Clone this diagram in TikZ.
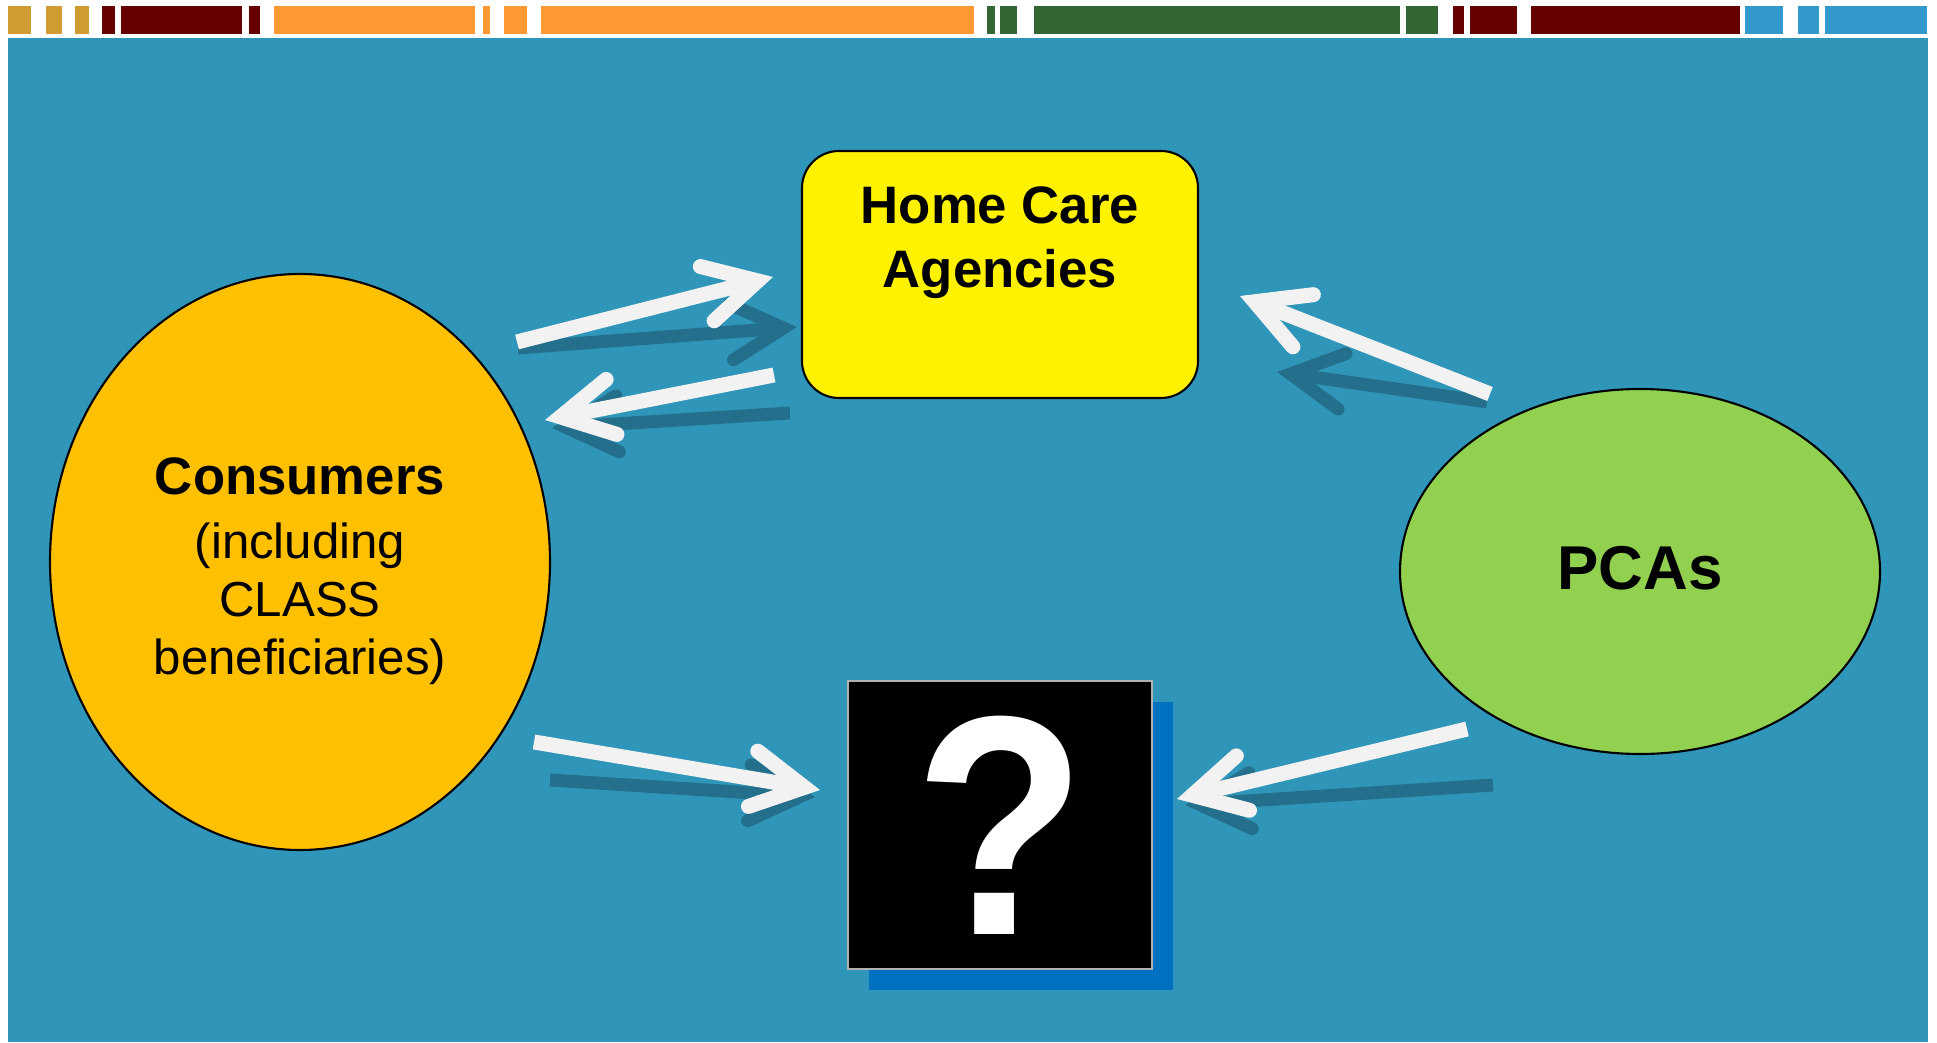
\documentclass[tikz,border=0pt]{standalone}
\usepackage{fontspec}
\setmainfont{Liberation Sans}
\usetikzlibrary{arrows.meta,shapes.geometric,shadows}

\definecolor{slide}{RGB}{48,150,185}
\definecolor{bargold}{RGB}{207,156,51}
\definecolor{barred}{RGB}{102,0,0}
\definecolor{barorange}{RGB}{255,153,51}
\definecolor{bargreen}{RGB}{51,102,51}
\definecolor{barblue}{RGB}{51,153,204}
\definecolor{consfill}{RGB}{255,192,0}
\definecolor{pcafill}{RGB}{146,208,80}
\definecolor{qshadow}{RGB}{0,112,192}
\definecolor{flowwhite}{RGB}{242,242,242}
\definecolor{flowdark}{RGB}{36,112,140}

\newcommand{\constext}{{\fontsize{15}{16.5}\selectfont\bfseries Consumers}\\[1.8pt](including\\CLASS\\beneficiaries)}

\begin{document}
\begin{tikzpicture}[
  ovalnode/.style={ellipse, draw=black, line width=0.6pt, inner sep=0pt},
  agencybox/.style={draw=black, line width=0.6pt, fill=yellow, rounded corners=0.37cm,
    minimum width=3.96cm, minimum height=2.47cm},
  flow/.style={draw=flowwhite, line width=0.15cm,
    -{Straight Barb[length=5.2mm, width=5.6mm, line width=0.15cm, line cap=round, line join=miter]}},
  flowshadow/.style={draw=flowdark, line width=0.13cm,
    -{Straight Barb[length=5.2mm, width=5.6mm, line width=0.13cm, line cap=round, line join=miter]}}
]
\useasboundingbox (0,0) rectangle (19.37,10.42);
\fill[white] (0,0) rectangle (19.37,10.42);
\fill[slide] (0.08,0) rectangle (19.28,10.04);

% colour strip on top
\foreach \a/\b/\c in {0.08/0.31/bargold, 0.46/0.62/bargold, 0.75/0.89/bargold,
    1.02/1.15/barred, 1.21/2.42/barred, 2.49/2.60/barred,
    2.74/4.75/barorange, 4.83/4.90/barorange, 5.04/5.27/barorange, 5.41/9.74/barorange,
    9.87/9.95/bargreen, 10.00/10.17/bargreen, 10.34/14.00/bargreen, 14.06/14.38/bargreen,
    14.53/14.64/barred, 14.70/15.17/barred, 15.31/17.40/barred,
    17.45/17.83/barblue, 17.98/18.19/barblue, 18.25/19.27/barblue}
  \fill[\c] (\a,10.08) rectangle (\b,10.36);

\node[ovalnode, fill=consfill, minimum width=5cm, minimum height=5.76cm,
  label={[yshift=-0.09cm, inner sep=0pt, align=center, font=\fontsize{14}{16.5}\selectfont]center:\constext}] (cons) at (3.00,4.80) {};

\node[agencybox, label={[anchor=north, yshift=-0.36cm, inner sep=0pt, align=center,
  font=\bfseries\fontsize{15}{18.2}\selectfont]north:{Home Care\\Agencies}}] (hca) at (10.00,7.675) {};

\node[ovalnode, fill=pcafill, minimum width=4.8cm, minimum height=3.65cm, text depth=0.08cm,
  font=\bfseries\fontsize{17.6}{20}\selectfont] (pca) at (16.40,4.705) {PCAs};

\node[draw=gray!60, fill=black, text=white, inner sep=0pt, minimum width=3.04cm, minimum height=2.88cm,
  drop shadow={shadow xshift=0.21cm, shadow yshift=-0.21cm, fill=qshadow, opacity=1},
  font=\bfseries\fontsize{89}{89}\selectfont] (qbox) at (10.00,2.17) {\scalebox{0.9}[1]{?}};

% arrow ends
\coordinate (ch-s) at (5.17,7.00);   \coordinate (ch-e) at (7.73,7.65);
\coordinate (hc-s) at (7.74,6.67);   \coordinate (hc-e) at (5.45,6.22);
\coordinate (ph-s) at (14.90,6.48);  \coordinate (ph-e) at (12.40,7.46);
\coordinate (cq-s) at (5.34,3.00);   \coordinate (cq-e) at (8.20,2.52);
\coordinate (pq-s) at (14.67,3.13);  \coordinate (pq-e) at (11.77,2.43);
% shadow ends
\coordinate (chd-s) at (5.18,6.94);  \coordinate (chd-e) at (7.97,7.15);
\coordinate (hcd-s) at (7.90,6.29);  \coordinate (hcd-e) at (5.52,6.14);
\coordinate (phd-s) at (14.87,6.40); \coordinate (phd-e) at (12.77,6.70);
\coordinate (cqd-s) at (5.50,2.62);  \coordinate (cqd-e) at (8.15,2.45);
\coordinate (pqd-s) at (14.93,2.57); \coordinate (pqd-e) at (11.85,2.37);

\draw[flowshadow] (chd-s) -- (chd-e);
\draw[flowshadow] (hcd-s) -- (hcd-e);
\draw[flowshadow] (phd-s) -- (phd-e);
\draw[flowshadow] (cqd-s) -- (cqd-e);
\draw[flowshadow] (pqd-s) -- (pqd-e);

\draw[flow] (ch-s) -- (ch-e);
\draw[flow] (hc-s) -- (hc-e);
\draw[flow] (ph-s) -- (ph-e);
\draw[flow] (cq-s) -- (cq-e);
\draw[flow] (pq-s) -- (pq-e);
\end{tikzpicture}
\end{document}
